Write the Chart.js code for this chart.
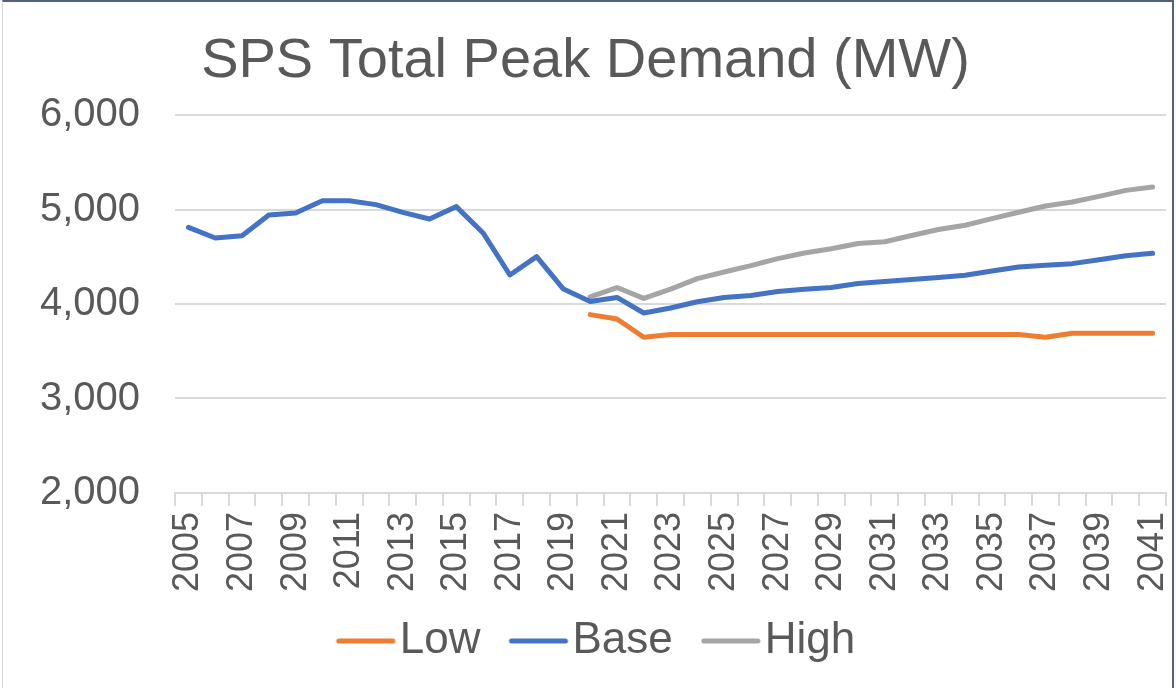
<!DOCTYPE html>
<html>
<head>
<meta charset="utf-8">
<script src="https://cdn.jsdelivr.net/npm/chart.js@4"></script>
<style>
    html, body { margin: 0; padding: 0; background: #fff; }
    #caixa { position: relative; width: 1176px; height: 688px; }
    #grafico { position: absolute; left: 0; top: 0; }
    #moldura {
        position: absolute; left: 2px; top: 0; width: 1172px; height: 688px;
        border-top: 2px solid #50627e; border-right: 2px solid #50627e; border-left: 1px solid #d9d9d9;
        box-sizing: border-box; pointer-events: none;
    }
</style>
</head>
<body>
<div id="caixa">
    <canvas id="grafico" width="1176" height="688"></canvas>
    <div id="moldura"></div>
</div>
<script>
const anos = ['2005','2006','2007','2008','2009','2010','2011','2012','2013','2014','2015','2016','2017','2018','2019','2020',
    '2021','2022','2023','2024','2025','2026','2027','2028','2029','2030','2031','2032','2033','2034','2035','2036',
    '2037','2038','2039','2040','2041'];

// historico ate 2019, projecoes a partir de 2020
const baixo = [null,null,null,null,null,null,null,null,null,null,null,null,null,null,null,
    3888,3842,3649,3677,3677,3677,3677,3677,3677,3677,3677,3677,3677,3677,3677,3677,3677,3649,3691,3691,3691,3691];
const base = [4812,4700,4724,4944,4965,5095,5095,5053,4971,4901,5032,4753,4308,4502,4159,
    4028,4070,3905,3958,4025,4070,4091,4133,4158,4175,4218,4239,4260,4281,4305,4351,4393,4411,4428,4470,4512,4537];
const alto = [null,null,null,null,null,null,null,null,null,null,null,null,null,null,null,
    4077,4175,4060,4158,4270,4340,4407,4481,4540,4586,4642,4660,4726,4789,4835,4905,4972,5039,5081,5140,5204,5239];

const eixoY = { min: 2000, max: 6000, passo: 1000 };

const corTexto = '#595959';
const corGrade = '#d9d9d9';
const fonte = 'Arial, "Liberation Sans", sans-serif';

// traco da legenda: imagem larga, linha deslocada para a direita (texto fica colado na linha)
function linhaLegenda(cor) {
    const c = document.createElement('canvas');
    c.width = 156; c.height = 10;
    const g = c.getContext('2d');
    g.strokeStyle = cor; g.lineWidth = 5; g.lineCap = 'round';
    g.beginPath(); g.moveTo(70, 5); g.lineTo(124, 5); g.stroke();
    return c;
}

function serie(nome, dados, cor) {
    return {
        label: nome, data: dados,
        borderColor: cor, backgroundColor: cor,
        borderWidth: 5, borderCapStyle: 'round', borderJoinStyle: 'round',
        pointRadius: 0, pointHoverRadius: 0, tension: 0, spanGaps: false,
        pointStyle: linhaLegenda(cor)
    };
}

new Chart(document.getElementById('grafico').getContext('2d'), {
    type: 'line',
    data: {
        labels: anos,
        datasets: [
            serie('Low', baixo, '#ed7d31'),
            serie('Base', base, '#4472c4'),
            serie('High', alto, '#a5a5a5')
        ]
    },
    options: {
        responsive: false, animation: false,
        layout: { padding: { left: 5, right: 10, top: 6, bottom: 15 } },
        plugins: {
            title: {
                display: true, text: 'SPS Total Peak Demand (MW)', color: corTexto,
                font: { family: fonte, size: 56, weight: 'normal' },
                padding: { top: 22, bottom: 20 }
            },
            legend: {
                position: 'bottom',
                labels: {
                    usePointStyle: true, pointStyleWidth: 62, boxHeight: 10,
                    color: corTexto, padding: 8,
                    font: { family: fonte, size: 44 }
                }
            },
            tooltip: { enabled: false }
        },
        scales: {
            x: {
                offset: true,
                afterFit: s => { s.paddingLeft = 0; s.paddingRight = 0; s.height += 13; },
                grid: { display: true, drawOnChartArea: false, drawTicks: true, tickLength: 13, color: corGrade, lineWidth: 2, offset: true },
                border: { display: true, color: corGrade, width: 2 },
                ticks: {
                    autoSkip: false, minRotation: 90, maxRotation: 90, padding: 6,
                    color: corTexto, font: { family: fonte, size: 36 },
                    callback: (v, i) => i % 2 === 0 ? anos[i] : ''
                }
            },
            y: {
                min: eixoY.min, max: eixoY.max,
                grid: { color: corGrade, lineWidth: 2, drawTicks: false },
                border: { display: false },
                ticks: {
                    stepSize: eixoY.passo, padding: 35, color: corTexto,
                    font: { family: fonte, size: 40 },
                    callback: v => v.toLocaleString('en-US')
                }
            }
        }
    }
});
</script>
</body>
</html>
